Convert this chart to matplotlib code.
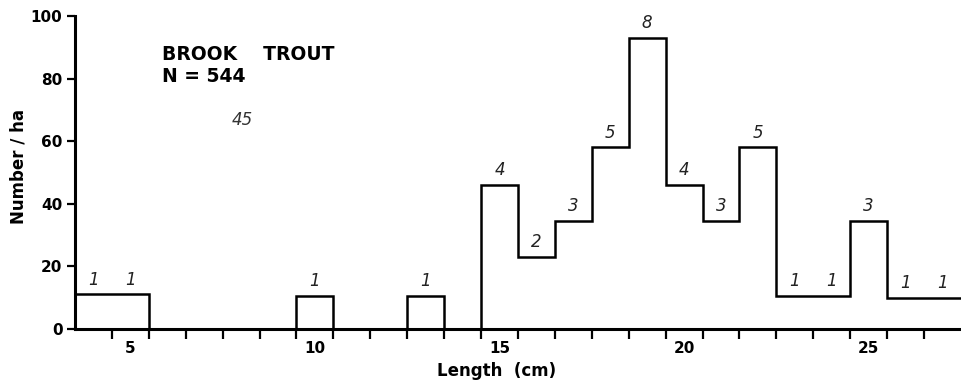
import numpy as np
import matplotlib
matplotlib.use('Agg')
import matplotlib.pyplot as plt

# Bin edges (cm) and density (Number/ha)
edges = np.arange(3.5, 28.0, 1.0)
density = [11, 11, 0, 0, 0, 0, 10.5, 0, 0, 10.5, 0, 46, 23, 34.5, 58, 93,
           46, 34.5, 58, 10.5, 10.5, 34.5, 10, 10]
# handwritten fish counts written above the bins
counts = [1, 1, 0, 0, 0, 0, 1, 0, 0, 1, 0, 4, 2, 3, 5, 8, 4, 3, 5, 1, 1, 3, 1, 1]

xtick_labels = [5, 10, 15, 20, 25]
yticks = [0, 20, 40, 60, 80, 100]


def main():
    fig = plt.figure(figsize=(9.61, 3.82), dpi=100)
    ax = fig.add_axes([0.078, 0.139, 0.922, 0.819])

    ax.stairs(density, edges, baseline=None, color='black', linewidth=1.8)

    ax.set_xlim(3.5, 27.5)
    ax.set_ylim(0, 100)

    for s in ['top', 'right']:
        ax.spines[s].set_visible(False)
    for s in ['left', 'bottom']:
        ax.spines[s].set_linewidth(2.2)

    # tick marks at bin edges, labels at bin centres
    ax.set_xticks(edges[1:-1])
    ax.set_xticklabels([])
    ax.set_xticks(xtick_labels, minor=True)
    ax.set_xticklabels([str(v) for v in xtick_labels], minor=True,
                       fontsize=11, fontweight='bold')
    ax.tick_params(axis='x', which='major', direction='out', length=7, width=1.6)
    ax.tick_params(axis='x', which='minor', length=0, pad=9)

    ax.set_yticks(yticks)
    ax.set_yticklabels([str(v) for v in yticks], fontsize=11, fontweight='bold')
    ax.tick_params(axis='y', direction='out', length=6, width=1.6, pad=3)

    ax.set_xlabel('Length  (cm)', fontsize=12, fontweight='bold')
    ax.xaxis.set_label_coords(0.476, -0.105)
    ax.set_ylabel('Number / ha', fontsize=12, fontweight='bold')
    ax.yaxis.set_label_coords(-0.053, 0.52)

    fig.text(162/961, 1-60/382, 'BROOK    TROUT', fontsize=13.5, fontweight='bold')
    fig.text(162/961, 1-82/382, 'N = 544', fontsize=13.5, fontweight='bold')

    # handwritten notes
    centres = (edges[:-1] + edges[1:]) / 2
    for x, h, c in zip(centres, density, counts):
        if c:
            ax.annotate(str(c), (x, h), xytext=(0, 4), textcoords='offset points',
                        ha='center', va='bottom', fontsize=12, fontstyle='italic',
                        color='#222222', annotation_clip=False)
    fig.text(232/961, 1-125/382, '45', fontsize=12, fontstyle='italic', color='#333333')

    fig.savefig('out.png', dpi=100)


if __name__ == '__main__':
    main()
